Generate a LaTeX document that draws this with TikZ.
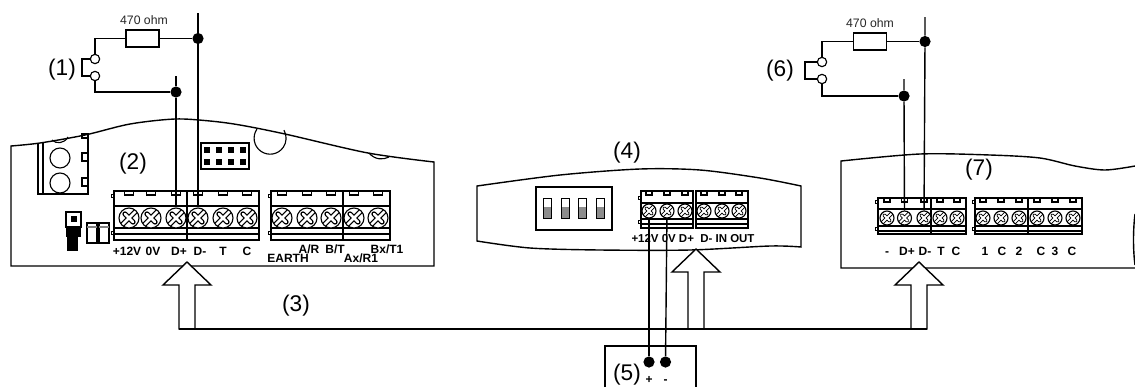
\documentclass[tikz,border=0pt]{standalone}
\usepackage{fontspec}
\setmainfont{Liberation Sans}
\tikzset{
    wire/.style={line width=1.05pt},
    thin part/.style={line width=0.85pt},
    dot/.style={circle, fill=black, inner sep=0pt, minimum size=8.4pt},
    contact/.style={circle, draw, fill=white, line width=0.85pt, inner sep=0pt, minimum size=7pt},
    resistor/.style={rectangle, draw, line width=1.05pt, inner sep=0pt, minimum width=25pt, minimum height=12.5pt},
    numlabel/.style={inner sep=0pt, font=\fontsize{17}{20}\selectfont},
    ohmlabel/.style={inner sep=0pt, text=black!85, font=\fontsize{9.2}{11}\selectfont},
    termlabel/.style={inner sep=0pt, text height=6.4pt, text depth=0pt, font=\fontsize{9}{10}\selectfont\bfseries},
    screw/.style={circle, draw, fill=white, line width=0.85pt, inner sep=0pt, minimum size=#1,
        path picture={
            \draw[line width=0.26*#1, line cap=round, shorten >=0.42*#1, shorten <=0.42*#1]
                (path picture bounding box.north east) -- (path picture bounding box.south west)
                (path picture bounding box.north west) -- (path picture bounding box.south east);
            \draw[white, line width=0.13*#1, line cap=round, shorten >=0.42*#1, shorten <=0.42*#1]
                (path picture bounding box.north east) -- (path picture bounding box.south west)
                (path picture bounding box.north west) -- (path picture bounding box.south east);
        }},
    busarrow/.style={draw, fill=white, line width=1.05pt, line join=miter},
}
\newcommand{\terminal}[7]{
    \draw[thin part] (#1,#3) rectangle (#2,#7);
    \draw[thin part] (#1,#4) -- (#2,#4) (#1,#5) -- (#2,#5) (#1,#6) -- (#2,#6);
}
\newcommand{\notches}[3]{
    \draw[line width=0.5pt] (#1-3,#2) rectangle (#1,#2+3) (#1-3,#3) rectangle (#1,#3+3);
}
\begin{document}
\begin{tikzpicture}[x=0.75pt, y=-0.75pt]
        \useasboundingbox (0,0) rectangle (1135,387);

        \draw[wire] plot[smooth] coordinates {(11,146) (40,143) (85,135) (130,124) (175,119) (210,121) (240,125) (285,134) (368,153) (434,162)} -- (434,266) -- (11,266) -- cycle;
        \draw[wire] plot[smooth] coordinates {(477,186) (560,175) (640,169) (700,170) (760,178) (801,186)} -- (801,247) -- plot[smooth] coordinates {(801,247) (770,246) (690,250) (600,250) (530,248) (477,241)} -- cycle;
        \draw[wire] (1135,268) -- (841,268) -- (841,161) -- plot[smooth] coordinates {(841,161) (920,154) (990,155) (1040,158) (1075,166) (1105,170) (1135,166)};
        \draw[wire] (1135,214) .. controls (1133,230) and (1133,250) .. (1135,265);

        \draw[thin part] (257,129) arc[start angle=215, end angle=-30, radius=16];
        \draw[thin part] (369,153) .. controls (375,160) and (383,160) .. (389,157);
        \draw[thin part] (52,140) .. controls (56,144) and (64,144) .. (68,137);

        \draw[thin part] (38,144) -- (38,194) -- (88,194) -- (88,134) (43,143) -- (43,194);
        \draw[thin part] (82,134) rectangle (88,138) (82,153) rectangle (88,161) (82,178) rectangle (88,186);
        \node[circle, draw, line width=0.85pt, minimum size=15pt, inner sep=0pt] (hole1) at (60,158) {};
        \node[circle, draw, line width=0.85pt, minimum size=15pt, inner sep=0pt] (hole2) at (60,183) {};

        \draw[wire] (201,143) rectangle (249,169);
        \foreach \hx in {207,219,231,243} {
            \fill (\hx-3,147) rectangle (\hx+3,153);
            \fill (\hx-3,159) rectangle (\hx+3,165);
        }

        \draw[thin part] (66,212) rectangle (81,227);
        \fill (71,216) rectangle (77,222);
        \fill (66,227) rectangle (81,237);
        \fill (67,237) rectangle (78,251);
        \foreach \sx in {87,99} {
            \draw[thin part] (\sx,223) rectangle (\sx+10,243);
            \draw[thin part, black!50] (\sx,227) -- (\sx+10,227);
        }

        \draw[wire] (536,187) rectangle (612,230);
        \foreach \sx in {543,561,578,596} {
            \fill[black!45] (\sx,207) rectangle (\sx+8,218);
            \draw[line width=0.7pt] (\sx,198) rectangle (\sx+8,218);
        }

        \terminal{114}{187}{191}{206}{228}{234}{240}
        \terminal{187}{259}{191}{206}{228}{234}{240}
        \terminal{271}{343}{191}{206}{228}{234}{240}
        \terminal{343}{390}{191}{206}{228}{234}{240}
        \notches{114}{194}{231}
        \notches{271}{194}{231}
        \foreach \sn/\sx in {a/129,b/151,c/176,d/198,e/223,f/247,g/282,h/307,i/331,j/354,k/378} {
            \draw[thin part] (\sx-4.5,191) rectangle (\sx+4.5,195);
            \node[screw=15pt] (s2\sn) at (\sx,218) {};
        }

        \terminal{641}{693}{191}{203}{219}{224}{228}
        \terminal{696}{748}{191}{203}{219}{224}{228}
        \notches{641}{196}{220}
        \foreach \sn/\sx in {a/649,b/667,c/685,d/704,e/722,f/739} {
            \draw[thin part] (\sx-3,191) rectangle (\sx+3,195);
            \node[screw=10.5pt] (s4\sn) at (\sx,211) {};
        }

        \terminal{878}{931}{198}{209}{226}{231}{234}
        \terminal{931}{966}{198}{209}{226}{231}{234}
        \terminal{975}{1028}{198}{209}{226}{231}{234}
        \terminal{1028}{1082}{198}{209}{226}{231}{234}
        \notches{878}{200}{227}
        \notches{975}{200}{227}
        \foreach \sn/\sx in {a/887,b/904.5,c/924,d/940,e/957,f/983,g/1001,h/1019,i/1037,j/1055,k/1073} {
            \draw[thin part] (\sx-3,198) rectangle (\sx+3,202);
            \node[screw=10.5pt] (s7\sn) at (\sx,218) {};
        }

        \foreach \lx/\ly/\lt [count=\ln] in {127/251/{+12V},153/251/0V,179/251/D+,200/251/D-,223/251/T,247/251/C,288/258/EARTH,309/249/{A/R},335/249/{B/T},361/258/{Ax/R1},387/249/{Bx/T1}} {
            \node[termlabel] (lab2-\ln) at (\lx,\ly) {\lt};
        }
        \node[termlabel, font=\fontsize{8.6}{10}\selectfont\bfseries] (lab4) at (693,238) {+12V 0V D+\ \ D- IN OUT};
        \foreach \lx/\lt [count=\ln] in {887/-,907/D+,925/D-,941/T,956/C,985/1,1002/C,1019/2,1041/C,1055/3,1072/C} {
            \node[termlabel] (lab7-\ln) at (\lx,251) {\lt};
        }

        \node[numlabel] (n1) at (62,70) {(1)};
        \node[numlabel] (n2) at (133,164) {(2)};
        \node[numlabel] (n3) at (296,306) {(3)};
        \node[numlabel] (n4) at (627,153) {(4)};
        \node[numlabel] (n5) at (627,375) {(5)};
        \node[numlabel] (n6) at (780,71) {(6)};
        \node[numlabel] (n7) at (979,170) {(7)};

        \node[ohmlabel] (ohm1) at (144,20) {470 ohm};
        \node[resistor] (res1) at (142.5,38.5) {};
        \node[contact] (c1a) at (95,59) {};
        \node[contact] (c1b) at (95,76) {};
        \node[dot] (dm1) at (198,38.5) {};
        \node[dot] (dp1) at (176,92) {};
        \coordinate (topm1) at (198,13);
        \coordinate (topp1) at (176,76);
        \draw[wire] (topm1) -- (dm1) -- (s2d);
        \draw[wire] (topp1) -- (dp1) -- (s2c);
        \draw[wire] (res1) -- (dm1);
        \draw[wire] (res1) -| (c1a);
        \draw[wire] (c1b) |- (dp1);
        \draw[wire] (c1a) -- ++(-13,0) |- (c1b);

        \node[ohmlabel] (ohm6) at (870,23) {470 ohm};
        \node[resistor] (res6) at (870,41.5) {};
        \node[contact] (c6a) at (822,62) {};
        \node[contact] (c6b) at (822,79) {};
        \node[dot] (dm6) at (925,41.5) {};
        \node[dot] (dp6) at (904,96) {};
        \coordinate (topm6) at (925,17);
        \coordinate (topp6) at (904,79);
        \draw[wire] (topm6) -- (dm6) -- (s7c);
        \draw[wire] (topp6) -- (dp6) -- (s7b);
        \draw[wire] (res6) -- (dm6);
        \draw[wire] (res6) -| (c6a);
        \draw[wire] (c6b) |- (dp6);
        \draw[wire] (c6a) -- ++(-17,0) |- (c6b);

        \foreach \ax/\ay in {187/262,696/249,919/262} {
            \draw[busarrow] (\ax,\ay) -- (\ax+24,\ay+23) -- (\ax+8,\ay+23) -- (\ax+8,329) -- (\ax-8,329) -- (\ax-8,\ay+23) -- (\ax-24,\ay+23) -- cycle;
        }
        \draw[wire] (179,329) -- (927,329);

        \draw[wire] (605,387) -- (605,346) -- (696,346) -- (696,387);
        \node[dot] (pplus) at (649,362) {};
        \node[dot] (pminus) at (665.5,362) {};
        \draw[wire] (s4a) -- (pplus);
        \draw[wire] (s4b) -- (pminus);
        \node[termlabel] (labplus) at (649,379) {+};
        \node[termlabel] (labminus) at (665.5,379) {-};
    \end{tikzpicture}
\end{document}
